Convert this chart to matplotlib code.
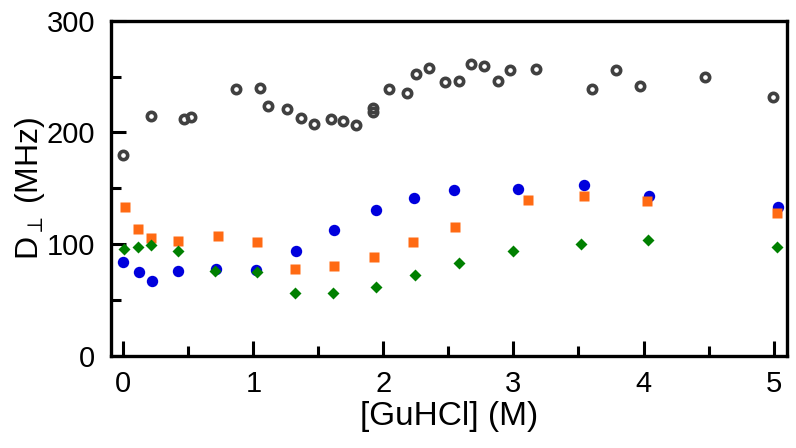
import matplotlib
matplotlib.use("Agg")
import matplotlib.pyplot as plt
from matplotlib.ticker import MultipleLocator

# gray open circles
gray_x = [0.0, 0.213, 0.467, 0.52, 0.867, 1.051, 1.115, 1.262, 1.364, 1.469,
          1.595, 1.692, 1.79, 1.923, 1.923, 2.046, 2.18, 2.25, 2.354, 2.474,
          2.585, 2.672, 2.77, 2.885, 2.975, 3.175, 3.601, 3.787, 3.97, 4.472, 4.992]
gray_y = [179.8, 214.7, 212, 214, 239, 240, 223.7, 220.7, 213, 207.3,
          212.3, 210, 206.7, 222, 218, 239, 235, 252, 258, 245.5,
          246.3, 261.3, 259.8, 246.3, 255.9, 257, 239.2, 255.9, 241.6, 249.3, 232]

# blue circles
blue_x = [0.0, 0.123, 0.221, 0.423, 0.713, 1.02, 1.331, 1.621, 1.944, 2.238,
          2.546, 3.034, 3.539, 4.039, 5.031]
blue_y = [83.8, 74.9, 67.1, 75.8, 77.5, 76.9, 94.2, 112.4, 130.3, 141.7,
          148.2, 149.7, 153, 143.5, 133.6]

# orange squares
orange_x = [0.013, 0.11, 0.21, 0.423, 0.726, 1.026, 1.318, 1.618, 1.926, 2.231,
            2.554, 3.108, 3.539, 4.029, 5.026]
orange_y = [133.6, 113.6, 105.9, 102.9, 107.4, 102.3, 77.5, 80.5, 88.3, 102.3,
            115.7, 139.3, 143.2, 139, 127.6]

# green diamonds
green_x = [0.008, 0.11, 0.215, 0.423, 0.705, 1.026, 1.321, 1.615, 1.944, 2.244,
           2.585, 2.993, 3.521, 4.031, 5.026]
green_y = [95.7, 97.8, 99, 93.6, 75.8, 74.9, 56.1, 56.1, 62, 72.5,
           82.9, 93.6, 99.9, 103.8, 97.8]

plt.rcParams['font.family'] = ['Liberation Sans', 'DejaVu Sans']
plt.rcParams['mathtext.fontset'] = 'custom'
plt.rcParams['mathtext.rm'] = 'Liberation Sans'
plt.rcParams['mathtext.it'] = 'Liberation Sans'

fig = plt.figure(figsize=(7.96, 4.48), dpi=100)
ax = fig.add_axes([0.139, 0.2054, 0.85, 0.7486])

ax.plot(gray_x, gray_y, 'o', ms=6, mfc='none', mec='#404040', mew=2.6, ls='none')
ax.plot(blue_x, blue_y, 'o', ms=8.2, color='#0000dd', mec='none', ls='none')
ax.plot(orange_x, orange_y, 's', ms=7.4, color='#ff6a13', mec='none', ls='none')
ax.plot(green_x, green_y, 'D', ms=6.5, color='#008000', mec='none', ls='none')

ax.set_xlim(-0.097, 5.105)
ax.set_ylim(0, 300)
ax.xaxis.set_major_locator(MultipleLocator(1))
ax.xaxis.set_minor_locator(MultipleLocator(0.5))
ax.yaxis.set_major_locator(MultipleLocator(100))
ax.yaxis.set_minor_locator(MultipleLocator(50))

for s in ax.spines.values():
    s.set_linewidth(2.4)
ax.tick_params(which='both', direction='in', width=2.2, labelsize=21)
ax.tick_params(which='major', length=11)
ax.tick_params(which='minor', length=7)
ax.tick_params(axis='x', which='major', pad=10)
ax.tick_params(axis='y', which='major', pad=11)

ax.set_xlabel('[GuHCl] (M)', fontsize=24, labelpad=2)
ax.set_ylabel(r'D$_{\perp}$ (MHz)', fontsize=23, labelpad=0)

fig.savefig('out.png', dpi=100)
